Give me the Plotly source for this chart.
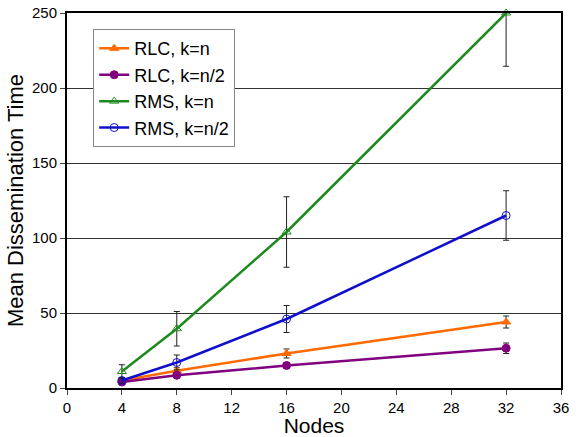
import plotly.graph_objects as go

nodes = [4, 8, 16, 32]

rlc_n = [5, 11.5, 23, 44]
rlc_n_err = [1.5, 2, 3, 4]

rlc_n2 = [4, 8.5, 15, 26.5]
rlc_n2_err = [1.5, 1.5, 2, 3.5]

rms_n = [11, 39.5, 104, 250]
rms_n_err_plus = [4.5, 11.5, 23.5, 0]
rms_n_err_minus = [4.5, 11.5, 23.5, 35.5]

rms_n2 = [5, 17, 46, 115]
rms_n2_err = [2, 5, 9, 16.5]

y_ticks = [0, 50, 100, 150, 200, 250]
x_ticks = [0, 4, 8, 12, 16, 20, 24, 28, 32, 36]

names = ["RLC, k=n", "RLC, k=n/2", "RMS, k=n", "RMS, k=n/2"]
colors = ["#FF6A00", "#800080", "#1E8A1E", "#1010CC"]
symbols = ["triangle-up", "circle", "triangle-up-open", "circle-open"]

series = [
    (rlc_n, rlc_n_err, rlc_n_err),
    (rlc_n2, rlc_n2_err, rlc_n2_err),
    (rms_n, rms_n_err_plus, rms_n_err_minus),
    (rms_n2, rms_n2_err, rms_n2_err),
]

fig = go.Figure()
for (ys, ep, em), name, c, s in zip(series, names, colors, symbols):
    fig.add_trace(go.Scatter(
        x=nodes, y=ys, name=name, mode="lines+markers",
        line=dict(color=c, width=2.5),
        marker=dict(symbol=s, size=8, color=c, line=dict(color=c, width=1)),
        error_y=dict(type="data", array=ep, arrayminus=em, symmetric=False,
                     color="#222222", thickness=1, width=3),
        cliponaxis=False,
    ))

font = "Liberation Sans, Arial, sans-serif"
fig.update_layout(
    width=576, height=437,
    margin=dict(l=67, r=15, t=13, b=49),
    paper_bgcolor="white", plot_bgcolor="white",
    font=dict(family=font, color="black"),
    showlegend=True,
    legend=dict(
        x=0.053, y=0.957, xanchor="left", yanchor="top",
        bgcolor="white", bordercolor="#888888", borderwidth=1,
        font=dict(size=18, family=font), tracegroupgap=0,
        itemwidth=30,
    ),
    xaxis=dict(
        range=[0, 36], tickvals=x_ticks, ticks="outside", ticklen=5,
        tickfont=dict(size=15), showgrid=False, zeroline=False,
        showline=True, linecolor="black", linewidth=2, mirror=True,
        automargin=False,
        title=dict(text="Nodes", font=dict(size=21), standoff=0),
    ),
    yaxis=dict(
        range=[0, 250], tickvals=y_ticks, ticks="outside", ticklen=5,
        tickfont=dict(size=15), showgrid=True, gridcolor="#333333", gridwidth=1,
        zeroline=False, automargin=False,
        showline=True, linecolor="black", linewidth=2, mirror=True,
        title=dict(text="Mean Dissemination Time", font=dict(size=22), standoff=2),
    ),
)

fig.write_html("out.html", config={"displayModeBar": False},
               post_script="document.body.style.margin='0';document.body.style.overflow='hidden';")
